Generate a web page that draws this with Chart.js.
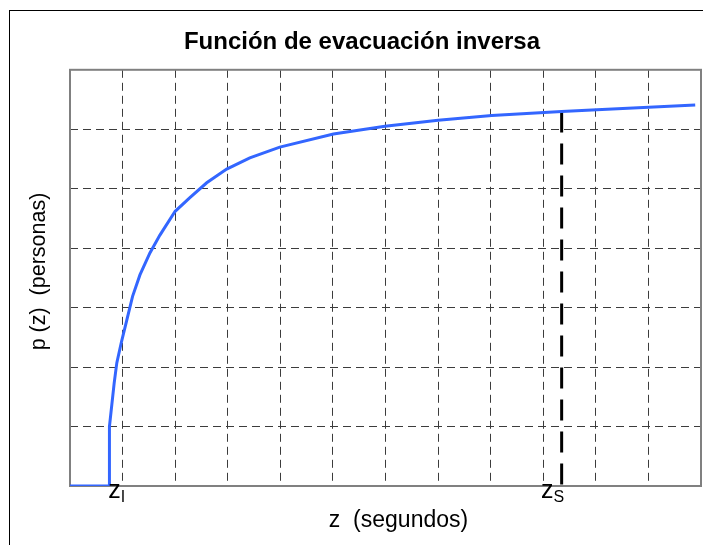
<!DOCTYPE html>
<html><head><meta charset="utf-8">
<script src="https://cdn.jsdelivr.net/npm/chart.js@4.4.0/dist/chart.umd.min.js"></script>
<style>html,body{margin:0;padding:0;background:#fff;}canvas{display:block;}</style>
</head><body>
<canvas id="c" width="703" height="545"></canvas>
<script>
// z (seconds, in grid units) and p(z) (persons, in grid units)
const zSeconds = [0, 0.75, 0.75, 0.84, 0.89, 0.98, 1.08, 1.19, 1.33, 1.52, 1.71, 2.00, 2.28, 2.60, 2.98, 3.42, 3.99, 5.01, 5.99, 7.00, 8.02, 9.35, 10.02, 11.89];
const pPersons = [0, 0, 1.00, 1.73, 2.07, 2.43, 2.79, 3.19, 3.55, 3.92, 4.22, 4.62, 4.85, 5.10, 5.33, 5.52, 5.70, 5.92, 6.05, 6.15, 6.23, 6.30, 6.33, 6.41];
const zsLineX = [9.35, 9.35];
const zsLineY = [6.30, 0];
const tickValues = [1, 9.35];
const tickMain = ['z', 'z'];
const tickSub = ['I', 'S'];
const titleText = 'Función de evacuación inversa';
const xTitle = 'z  (segundos)';
const yTitle = 'p (z)  (personas)';

const FONT = '"Liberation Sans", Arial, Helvetica, sans-serif';

const decor = {
  id: 'decor',
  beforeDatasetsDraw(chart) {
    const {ctx, chartArea: a} = chart;
    ctx.save();
    ctx.strokeStyle = '#808080';
    ctx.lineWidth = 2;
    ctx.strokeRect(a.left, a.top, a.right - a.left, a.bottom - a.top);
    ctx.restore();
  },
  afterDraw(chart) {
    const {ctx, chartArea: a, scales} = chart;
    ctx.save();
    ctx.strokeStyle = '#000';
    ctx.lineWidth = 1;
    ctx.strokeRect(9.5, 10.5, 800, 700);
    ctx.fillStyle = '#000';
    ctx.textBaseline = 'alphabetic';
    ctx.textAlign = 'left';
    tickValues.forEach((v, i) => {
      const px = scales.x.getPixelForValue(v);
      ctx.font = '25px ' + FONT;
      const wMain = ctx.measureText(tickMain[i]).width;
      ctx.font = '16px ' + FONT;
      const wSub = ctx.measureText(tickSub[i]).width;
      const right = px + 2.5;
      ctx.font = '25px ' + FONT;
      ctx.fillText(tickMain[i], right - wSub - wMain, a.bottom + 12);
      ctx.font = '16px ' + FONT;
      ctx.fillText(tickSub[i], right - wSub, a.bottom + 16);
    });
    // x axis title
    ctx.font = '23px ' + FONT;
    ctx.textAlign = 'center';
    ctx.fillText(xTitle, 398.5, 527);
    // y axis title
    ctx.save();
    ctx.translate(45, 271.5);
    ctx.rotate(-Math.PI / 2);
    ctx.font = '21.5px ' + FONT;
    ctx.fillText(yTitle, 0, 0);
    ctx.restore();
    ctx.restore();
  }
};

const gridColor = (max) => (c) => (c.tick && (c.tick.value === 0 || c.tick.value === max)) ? 'rgba(0,0,0,0)' : '#3c3c3c';

new Chart(document.getElementById('c'), {
  type: 'line',
  data: {
    datasets: [
      {
        data: zSeconds.map((x, i) => ({x: x, y: pPersons[i]})),
        borderColor: '#3366ff', borderWidth: 3, pointRadius: 0, tension: 0, fill: false
      },
      {
        data: zsLineX.map((x, i) => ({x: x, y: zsLineY[i]})),
        borderColor: '#000000', borderWidth: 3, borderDash: [21, 11], pointRadius: 0, tension: 0, fill: false
      }
    ]
  },
  options: {
    responsive: false, animation: false, devicePixelRatio: 1,
    layout: {padding: {left: 23, right: 2, top: 0, bottom: 0}},
    plugins: {
      legend: {display: false},
      tooltip: {enabled: false},
      title: {
        display: true, text: titleText, color: '#000',
        font: {family: FONT, size: 24, weight: 'bold', lineHeight: 1.2},
        padding: {top: 28, bottom: 13}
      }
    },
    scales: {
      x: {
        type: 'linear', min: 0, max: 12,
        ticks: {display: false, stepSize: 1},
        grid: {color: gridColor(12), lineWidth: 1, drawTicks: false},
        border: {display: false, dash: [8, 5]},
        afterFit: (s) => { s.height = 59; }
      },
      y: {
        type: 'linear', min: 0, max: 7,
        ticks: {display: false, stepSize: 1},
        grid: {color: gridColor(7), lineWidth: 1, drawTicks: false},
        border: {display: false, dash: [8, 5]},
        afterFit: (s) => { s.width = 47; }
      }
    }
  },
  plugins: [decor]
});
</script>
</body></html>
